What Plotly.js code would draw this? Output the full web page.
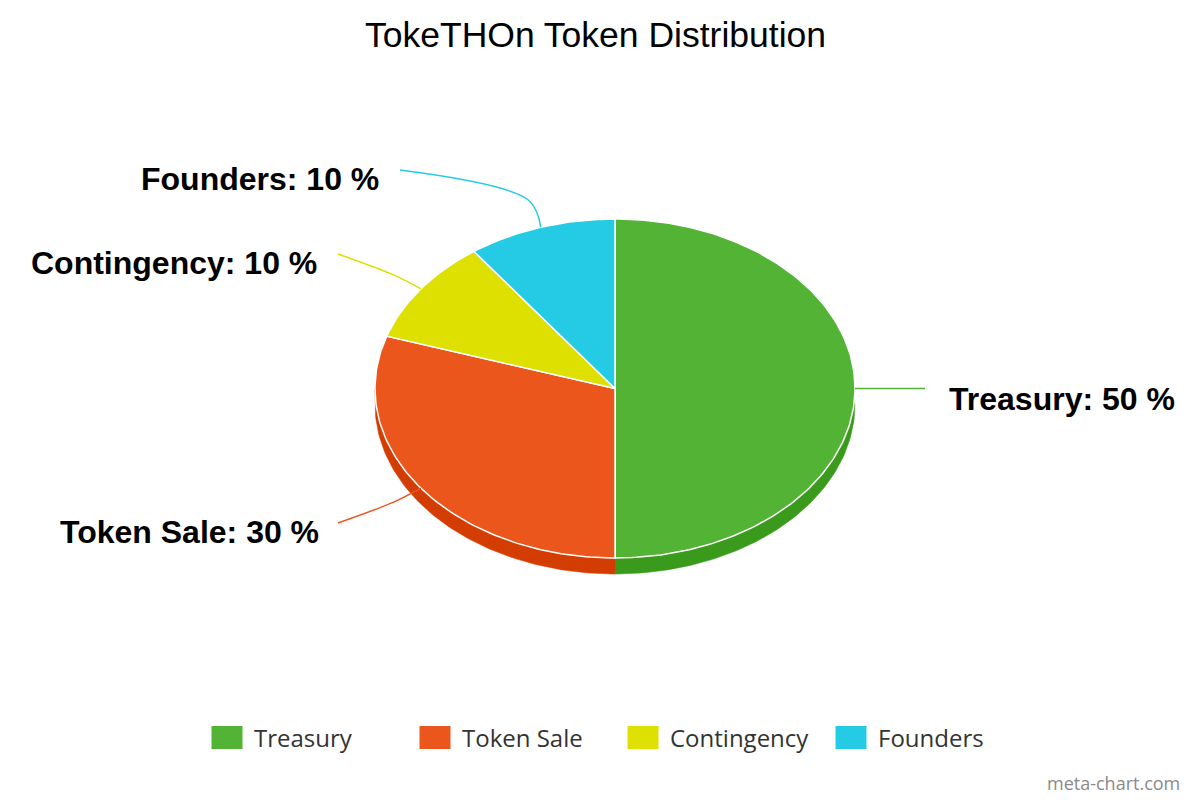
<!DOCTYPE html>
<html>
<head>
<meta charset="utf-8">
<script src="https://cdn.plot.ly/plotly-3.0.1.min.js"></script>
<style>
  html, body { margin: 0; padding: 0; background: #fff; }
  #chart { width: 1200px; height: 800px; }
</style>
</head>
<body>
<div id="chart"></div>
<script>
// ---- data ----
const categories = ['Treasury', 'Token Sale', 'Contingency', 'Founders'];
const values = [50, 30, 10, 10];
const chartTitle = 'TokeTHOn Token Distribution';
const watermark = 'meta-chart.com';

// ---- styles ----
const topColors = ['#52b335', '#eb561d', '#dde000', '#25cbe4'];
const sideColors = ['#3a9a1c', '#d43d02', '#b9bb00', '#1ba9bf'];

// ---- geometry (layout, in pixel-like axis units) ----
const CX = 615, CY = 388.5, RX = 240, RY = 169.5, DEPTH = 16;
const labelLayout = [
  { x: 947, y: 399, anchor: 'left',  end: [925, 388.5] },
  { x: 321, y: 532, anchor: 'right', end: [338, 523] },
  { x: 319, y: 263, anchor: 'right', end: [338, 254] },
  { x: 381, y: 179, anchor: 'right', end: [400, 170] }
];

function pt(theta, dy) {
  return [CX + RX * Math.sin(theta), CY - RY * Math.cos(theta) + (dy || 0)];
}
function arc(a0, a1, dy) {
  const n = Math.max(4, Math.ceil(Math.abs(a1 - a0) / (Math.PI / 180)));
  const out = [];
  for (let i = 0; i <= n; i++) out.push(pt(a0 + (a1 - a0) * i / n, dy));
  return out;
}

const total = values.reduce((a, b) => a + b, 0);
const sideTraces = [];
const topTraces = [];
const connectorTraces = [];
const annotations = [];

let acc = 0;
values.forEach((v, i) => {
  const a0 = acc / total * 2 * Math.PI;
  acc += v;
  const a1 = acc / total * 2 * Math.PI;

  // side wall (visible front half: PI/2 .. 3PI/2)
  const s0 = Math.max(a0, Math.PI / 2), s1 = Math.min(a1, 3 * Math.PI / 2);
  if (s1 > s0) {
    const pts = arc(s0, s1, 0).concat(arc(s1, s0, DEPTH));
    sideTraces.push({
      type: 'scatter', mode: 'lines',
      x: pts.map(p => p[0]), y: pts.map(p => p[1]),
      fill: 'toself', fillcolor: sideColors[i],
      line: { color: sideColors[i], width: 0.5 },
      hoverinfo: 'skip', showlegend: false
    });
  }

  // top face
  const face = [[CX, CY]].concat(arc(a0, a1, 0)).concat([[CX, CY]]);
  topTraces.push({
    type: 'scatter', mode: 'lines',
    x: face.map(p => p[0]), y: face.map(p => p[1]),
    fill: 'toself', fillcolor: topColors[i],
    line: { color: '#ffffff', width: 1.5 },
    name: categories[i], hoverinfo: 'skip', showlegend: false
  });

  // connector
  const mid = (a0 + a1) / 2;
  const p = pt(mid, 0);
  const dx = p[0] - CX, dyv = p[1] - CY, len = Math.hypot(dx, dyv);
  const elbow = [p[0] + dx / len * 30, p[1] + dyv / len * 30];
  const L = labelLayout[i];
  connectorTraces.push({
    type: 'scatter', mode: 'lines',
    x: [p[0], elbow[0], L.end[0]], y: [p[1], elbow[1], L.end[1]],
    line: { color: topColors[i], width: 1.5, shape: 'spline', smoothing: 1 },
    hoverinfo: 'skip', showlegend: false
  });

  annotations.push({
    xref: 'x', yref: 'y', x: L.x, y: L.y,
    xanchor: L.anchor, yanchor: 'middle', showarrow: false,
    text: categories[i] + ': ' + v + ' %',
    font: { family: 'Liberation Sans, Arial, sans-serif', size: 32, color: '#000', weight: 'bold' }
  });
});

// legend entries
const legendTraces = categories.map((c, i) => ({
  type: 'scatter', mode: 'markers', x: [null], y: [null], name: c,
  marker: { symbol: 'square', size: 16, color: topColors[i] },
  hoverinfo: 'skip', showlegend: true
}));

annotations.push({
  xref: 'paper', yref: 'paper', x: 1182 / 1200, y: 1 - 783 / 800,
  xanchor: 'right', yanchor: 'middle', showarrow: false,
  text: watermark,
  font: { family: 'Open Sans, sans-serif', size: 18, color: '#8a8a8a' }
});

const layout = {
  width: 1200, height: 800,
  margin: { l: 0, r: 0, t: 0, b: 0 },
  paper_bgcolor: '#fff', plot_bgcolor: '#fff',
  title: {
    text: chartTitle,
    font: { family: 'Liberation Sans, Arial, sans-serif', size: 35.5, color: '#000' },
    x: 595.5 / 1200, xanchor: 'center', xref: 'paper',
    y: 1 - 35 / 800, yanchor: 'middle', yref: 'container'
  },
  xaxis: { range: [0, 1200], visible: false, fixedrange: true },
  yaxis: { range: [800, 0], visible: false, fixedrange: true },
  showlegend: true,
  legend: {
    orientation: 'h', x: 200 / 1200, xanchor: 'left', y: 1 - 738 / 800, yanchor: 'middle',
    font: { family: 'Open Sans, sans-serif', size: 24, color: '#333' },
    itemwidth: 44, entrywidth: 149, entrywidthmode: 'pixels',
    itemclick: false, itemdoubleclick: false, bgcolor: 'rgba(0,0,0,0)'
  },
  hovermode: false,
  annotations: annotations
};

Plotly.newPlot('chart',
  sideTraces.concat(topTraces, connectorTraces, legendTraces),
  layout, { displayModeBar: false, responsive: false }).then(gd => {
    // legend swatches as 31x23 blocks, like the original
    gd.querySelectorAll('.legend .legendpoints path.scatterpts').forEach(el => {
      el.setAttribute('d', 'M-15.5,-11.5H15.5V11.5H-15.5Z');
    });
  });
</script>
</body>
</html>
